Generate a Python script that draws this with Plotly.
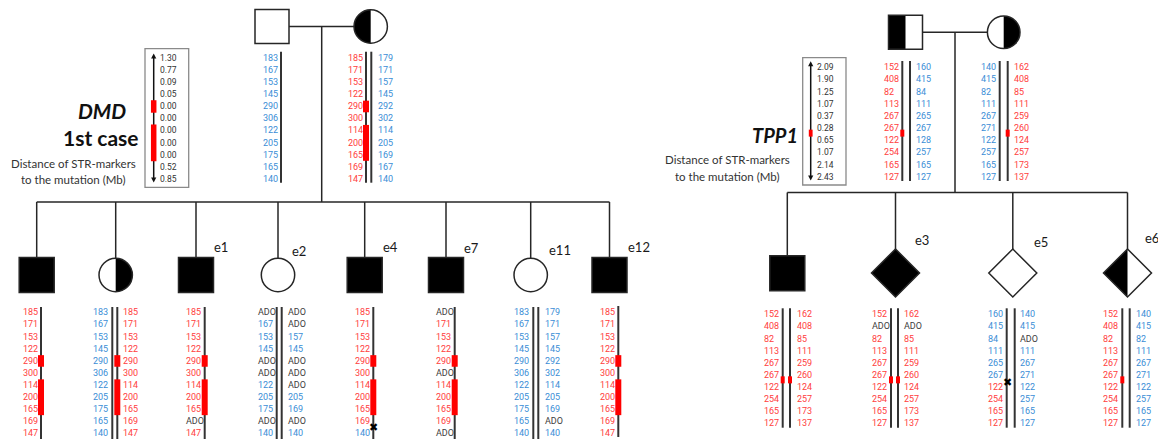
import numpy as np
import plotly.graph_objects as go

W, H = 1158, 443
RED, BLUE, GREY = "#FF3D3D", "#3B8ED6", "#404040"
BLOCK = "#FF0000"
INK = "#262626"
FONT = "Lato"
NUM_FONT = "Roboto"

# ---------------- DMD family (11 STR markers) ----------------
dmd_distance = ["1.30", "0.77", "0.09", "0.05", "0.00", "0.00", "0.00", "0.00", "0.00", "0.52", "0.85"]
dmd_father = ["183", "167", "153", "145", "290", "306", "122", "205", "175", "165", "140"]
dmd_mother_mut = ["185", "171", "153", "122", "290", "300", "114", "200", "165", "169", "147"]
dmd_mother_wt = ["179", "171", "157", "145", "292", "302", "114", "205", "169", "167", "140"]
dmd_son1 = ["185", "171", "153", "122", "290", "300", "114", "200", "165", "169", "147"]
dmd_daughter1_pat = ["183", "167", "153", "145", "290", "306", "122", "205", "175", "165", "140"]
dmd_daughter1_mat = ["185", "171", "153", "122", "290", "300", "114", "200", "165", "169", "147"]
dmd_e1 = ["185", "171", "153", "122", "290", "300", "114", "200", "165", "ADO", "147"]
dmd_e2_pat = ["ADO", "167", "153", "145", "ADO", "ADO", "122", "205", "175", "ADO", "140"]
dmd_e2_mat = ["ADO", "ADO", "157", "145", "ADO", "ADO", "ADO", "205", "169", "ADO", "140"]
dmd_e4 = ["185", "171", "153", "122", "290", "300", "114", "200", "165", "169", "140"]
dmd_e7 = ["ADO", "171", "153", "122", "290", "ADO", "114", "200", "165", "169", "ADO"]
dmd_e11_pat = ["183", "167", "153", "145", "290", "306", "122", "205", "175", "165", "140"]
dmd_e11_mat = ["179", "171", "157", "145", "292", "302", "114", "205", "169", "ADO", "140"]
dmd_e12 = ["185", "171", "153", "122", "290", "300", "114", "200", "165", "169", "147"]
# marker rows (first, last) flanking the mutation
dmd_block_rows = [(4, 4), (6, 8)]

# ---------------- TPP1 family (10 STR markers) ----------------
tpp_distance = ["2.09", "1.90", "1.25", "1.07", "0.37", "0.28", "0.65", "1.07", "2.14", "2.43"]
tpp_father_mut = ["152", "408", "82", "113", "267", "267", "122", "254", "165", "127"]
tpp_father_wt = ["160", "415", "84", "111", "265", "267", "128", "257", "165", "127"]
tpp_mother_wt = ["140", "415", "82", "111", "267", "271", "122", "257", "165", "127"]
tpp_mother_mut = ["162", "408", "85", "111", "259", "260", "124", "257", "173", "137"]
tpp_son_pat = ["152", "408", "82", "113", "267", "267", "122", "254", "165", "127"]
tpp_son_mat = ["162", "408", "85", "111", "259", "260", "124", "257", "173", "137"]
tpp_e3_pat = ["152", "ADO", "82", "113", "267", "267", "122", "254", "165", "127"]
tpp_e3_mat = ["162", "ADO", "85", "111", "259", "260", "124", "257", "173", "137"]
tpp_e5_pat = ["160", "415", "84", "111", "265", "267", "122", "254", "165", "127"]
tpp_e5_pat_origin = "bbbbbbrrrr"
tpp_e5_mat = ["140", "415", "ADO", "111", "267", "271", "122", "257", "165", "127"]
tpp_e6_pat = ["152", "408", "82", "113", "267", "267", "122", "254", "165", "127"]
tpp_e6_mat = ["140", "415", "82", "111", "267", "271", "122", "257", "165", "127"]
tpp_block_gap = 5  # mutation lies between marker rows 5 and 6

shapes, annotations = [], []


def rows(y0, step, n):
    return [y0 + i * step for i in range(n)]


def seg(x0, y0, x1, y1, w=1.5, c=INK):
    shapes.append(dict(type="line", x0=x0, y0=y0, x1=x1, y1=y1,
                       line=dict(color=c, width=w), layer="above"))


def rect(x0, y0, x1, y1, fill=None, w=1.5, c=INK):
    shapes.append(dict(type="rect", x0=x0, y0=y0, x1=x1, y1=y1,
                       fillcolor=fill or "rgba(0,0,0,0)",
                       line=dict(color=c, width=w), layer="above"))


def path(d, fill, w=0, c=INK):
    shapes.append(dict(type="path", path=d, fillcolor=fill,
                       line=dict(color=c, width=w), layer="above"))


def txt(x, y, s, color=INK, size=9, anchor="left", family=FONT):
    annotations.append(dict(x=x, y=y, text=s, showarrow=False, xanchor=anchor,
                            yanchor="middle", font=dict(family=family, size=size, color=color),
                            borderpad=0))


def square(cx, cy, s, fill=None, half=None):
    h = s / 2
    if half == "left":
        rect(cx - h, cy - h, cx, cy + h, fill="black", w=0)
    rect(cx - h, cy - h, cx + h, cy + h, fill=fill)


def circle(cx, cy, r, half=None):
    if half:
        sign = -1 if half == "left" else 1
        t = np.linspace(-np.pi / 2, np.pi / 2, 41)
        pts = [(cx + sign * r * np.cos(a), cy + r * np.sin(a)) for a in t]
        d = "M" + " L".join(f"{x:.2f},{y:.2f}" for x, y in pts) + " Z"
        path(d, "black")
    shapes.append(dict(type="circle", x0=cx - r, y0=cy - r, x1=cx + r, y1=cy + r,
                       line=dict(color=INK, width=1.5), layer="above"))


def diamond(cx, cy, h, fill=None, half=None):
    if half == "left":
        path(f"M{cx},{cy - h} L{cx},{cy + h} L{cx - h},{cy} Z", "black")
    d = f"M{cx},{cy - h} L{cx + h},{cy} L{cx},{cy + h} L{cx - h},{cy} Z"
    path(d, fill or "rgba(0,0,0,0)", w=1.5)


def column(x, ys, values, origin):
    for y, v, o in zip(ys, values, origin):
        col = GREY if v == "ADO" else (RED if o == "r" else BLUE)
        txt(x, y, v, col, size=9, family=NUM_FONT)


def chrom(x, y0, y1):
    seg(x, y0, x, y1, w=2, c="#333333")


def block(x, ya, yb, w=6):
    rect(x - w / 2, ya, x + w / 2, yb, fill=BLOCK, w=0)


def cross(x, y):
    txt(x, y, "✖", "black", size=11, anchor="center", family="DejaVu Sans")


def arrow_line(x, y0, y1):
    seg(x, y0 + 3, x, y1 - 3, w=1.5, c="#111111")
    path(f"M{x},{y0} L{x + 2.6},{y0 + 5} L{x - 2.6},{y0 + 5} Z", "#111111")
    path(f"M{x},{y1} L{x + 2.6},{y1 - 5} L{x - 2.6},{y1 - 5} Z", "#111111")


# ======================= DMD pedigree =======================
dmd_par_y = rows(57.7, 12.13, len(dmd_distance))
dmd_kid_y = rows(312.3, 12.1, len(dmd_distance))


def dmd_blocks(x, ys, step):
    for r0, r1 in dmd_block_rows:
        block(x, ys[r0] - step / 2 + 0.5, ys[r1] + step / 2)


# parents
square(272, 26.5, 34)
circle(370.7, 26.5, 16.7, half="left")
seg(289, 26.5, 354, 26.5)
seg(321.7, 26.5, 321.7, 202)
sib_x = [36.7, 115.7, 196, 278, 364.7, 446, 530.7, 609.5]
seg(sib_x[0], 202, sib_x[-1], 202)
for x in sib_x:
    seg(x, 202, x, 258)

# distance legend
rect(145, 48.7, 188.7, 187.3, w=1.3, c="#8a8a8a")
arrow_line(153.7, 53.5, 182.5)
for r0, r1 in dmd_block_rows:
    block(153.7, dmd_par_y[r0] - 6, dmd_par_y[r1] + 6.5, w=5.5)
for y, v in zip(dmd_par_y, dmd_distance):
    txt(158.5, y, v, "#333333", size=8.5, family=NUM_FONT)
txt(102, 110, "<b><i>DMD</i></b>", "#111111", size=21, anchor="center")
txt(101, 137.5, "<b>1st case</b>", "#111111", size=21, anchor="center")
txt(73, 163.5, "Distance of STR-markers", "#333333", size=11.5, anchor="center")
txt(73, 179.5, "to the mutation (Mb)", "#333333", size=11.5, anchor="center")

# father / mother haplotypes
column(261.5, dmd_par_y, dmd_father, "b" * 11)
chrom(281, 51.7, 182.7)
column(346.5, dmd_par_y, dmd_mother_mut, "r" * 11)
chrom(366, 51.7, 182.7)
chrom(371.3, 51.7, 182.7)
column(376.5, dmd_par_y, dmd_mother_wt, "b" * 11)
dmd_blocks(366, dmd_par_y, 12.13)

# children symbols
square(36.7, 275, 35, fill="black")
circle(115.7, 275, 16.7, half="right")
square(196, 275, 35, fill="black")
circle(278, 275, 16.7)
square(364.7, 275, 35, fill="black")
square(446, 275, 35, fill="black")
circle(530.7, 275, 16.7)
square(609.5, 275, 35, fill="black")
for lab, x, y in [("e1", 213, 246.5), ("e2", 291, 250.5), ("e4", 382, 247),
                  ("e7", 463, 248), ("e11", 548, 250), ("e12", 627, 247)]:
    txt(x, y, lab, "#1a1a1a", size=13)

ky0, ky1 = 307, 439
# son
column(21.5, dmd_kid_y, dmd_son1, "r" * 11)
chrom(41, ky0, ky1)
dmd_blocks(41, dmd_kid_y, 12.1)
# daughter
column(91.5, dmd_kid_y, dmd_daughter1_pat, "b" * 11)
chrom(112.3, ky0, ky1)
chrom(117.3, ky0, ky1)
column(121.5, dmd_kid_y, dmd_daughter1_mat, "r" * 11)
dmd_blocks(117.3, dmd_kid_y, 12.1)
# e1
column(185, dmd_kid_y, dmd_e1, "r" * 11)
chrom(204.7, ky0, ky1)
dmd_blocks(204.7, dmd_kid_y, 12.1)
# e2
column(256.5, dmd_kid_y, dmd_e2_pat, "b" * 11)
chrom(276.7, ky0, ky1)
chrom(281.7, ky0, ky1)
column(286.5, dmd_kid_y, dmd_e2_mat, "b" * 11)
# e4 (recombination between the last two markers)
column(354, dmd_kid_y, dmd_e4, "r" * 10 + "b")
chrom(373.3, ky0, ky1)
dmd_blocks(373.3, dmd_kid_y, 12.1)
cross(373.3, (dmd_kid_y[9] + dmd_kid_y[10]) / 2)
# e7
column(435, dmd_kid_y, dmd_e7, "r" * 11)
chrom(454.7, ky0, ky1)
dmd_blocks(454.7, dmd_kid_y, 12.1)
# e11
column(513.3, dmd_kid_y, dmd_e11_pat, "b" * 11)
chrom(533.3, ky0, ky1)
chrom(538.3, ky0, ky1)
column(544, dmd_kid_y, dmd_e11_mat, "b" * 11)
# e12
column(599, dmd_kid_y, dmd_e12, "r" * 11)
chrom(618.3, ky0 - 1, ky1 - 2)
dmd_blocks(618.3, dmd_kid_y, 12.1)

# ======================= TPP1 pedigree =======================
tpp_par_y = rows(67.3, 12.15, len(tpp_distance))
tpp_kid_y = rows(314.3, 12.1, len(tpp_distance))


def tpp_block(x, ys, w=4):
    yc = (ys[tpp_block_gap] + ys[tpp_block_gap + 1]) / 2 - 1
    block(x, yc - 3.5, yc + 3.5, w=w)


square(905.5, 32.3, 34, half="left")
circle(1003.7, 32.3, 16.3, half="right")
seg(922.5, 32.3, 987.4, 32.3)
seg(955, 32.3, 955, 192.5)
tsib_x = [787.3, 895.5, 1012.8, 1127.5]
seg(tsib_x[0], 192.5, tsib_x[-1], 192.5)
seg(tsib_x[0], 192.5, tsib_x[0], 255.7)
for x in tsib_x[1:]:
    seg(x, 192.5, x, 249)

# distance legend
rect(802.7, 57.7, 846, 185, w=1.3, c="#8a8a8a")
arrow_line(810.7, 61.3, 180.5)
tpp_block(810.7, tpp_par_y, w=3.8)
for y, v in zip(tpp_par_y, tpp_distance):
    txt(815.5, y, v, "#333333", size=8.5, family=NUM_FONT)
txt(775.3, 135, "<b><i>TPP1</i></b>", "#111111", size=20, anchor="center")
txt(727, 159.5, "Distance of STR-markers", "#333333", size=11.5, anchor="center")
txt(727, 176, "to the mutation (Mb)", "#333333", size=11.5, anchor="center")

# parents haplotypes
py0, py1 = 61, 181
column(882.5, tpp_par_y, tpp_father_mut, "r" * 10)
chrom(902.3, py0, py1)
chrom(910, py0, py1)
column(914.5, tpp_par_y, tpp_father_wt, "b" * 10)
tpp_block(902.3, tpp_par_y)
column(979.5, tpp_par_y, tpp_mother_wt, "b" * 10)
chrom(999.7, py0, py1)
chrom(1007.7, py0, py1)
column(1012.5, tpp_par_y, tpp_mother_mut, "r" * 10)
tpp_block(1007.7, tpp_par_y)

# children symbols
square(787.3, 273.2, 35, fill="black")
diamond(895.5, 273, 24, fill="black")
diamond(1012.8, 273, 24)
diamond(1127.5, 273, 24, half="left")
for lab, x, y in [("e3", 914, 240), ("e5", 1033, 241.7), ("e6", 1144, 238.3)]:
    txt(x, y, lab, "#1a1a1a", size=13)

cy0, cy1 = 308.3, 427.7
# son
column(762.5, tpp_kid_y, tpp_son_pat, "r" * 10)
chrom(782.7, cy0, cy1)
chrom(790, cy0, cy1)
column(795.5, tpp_kid_y, tpp_son_mat, "r" * 10)
tpp_block(782.7, tpp_kid_y)
tpp_block(790, tpp_kid_y)
# e3
column(870.5, tpp_kid_y, tpp_e3_pat, "r" * 10)
chrom(891, cy0, cy1)
chrom(898, cy0, cy1)
column(903, tpp_kid_y, tpp_e3_mat, "r" * 10)
tpp_block(891, tpp_kid_y)
tpp_block(898, tpp_kid_y)
# e5 (recombinant paternal chromosome)
column(986.5, tpp_kid_y, tpp_e5_pat, tpp_e5_pat_origin)
chrom(1006.7, cy0, cy1)
chrom(1014.7, cy0, cy1)
column(1019, tpp_kid_y, tpp_e5_mat, "b" * 10)
cross(1007.2, (tpp_kid_y[5] + tpp_kid_y[6]) / 2 + 2)
# e6
column(1101.5, tpp_kid_y, tpp_e6_pat, "r" * 10)
chrom(1122.3, cy0, cy1)
chrom(1129.7, cy0, cy1)
column(1134.8, tpp_kid_y, tpp_e6_mat, "b" * 10)
tpp_block(1122.3, tpp_kid_y)

fig = go.Figure()
fig.update_layout(
    width=W, height=H, autosize=False,
    margin=dict(l=0, r=0, t=0, b=0),
    paper_bgcolor="white", plot_bgcolor="white",
    xaxis=dict(range=[0, W], visible=False, fixedrange=True),
    yaxis=dict(range=[H, 0], visible=False, fixedrange=True),
    shapes=shapes, annotations=annotations, showlegend=False,
)
fig.write_html("out.html")
